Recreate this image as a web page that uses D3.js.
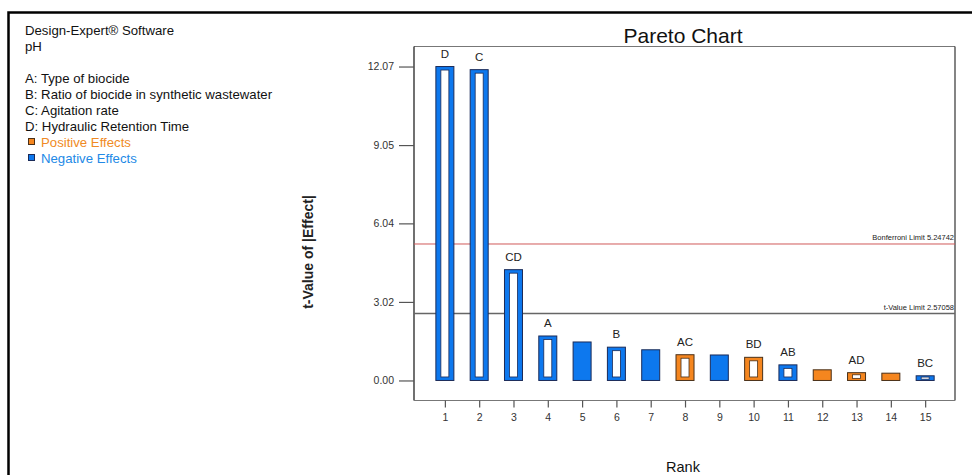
<!DOCTYPE html>
<html>
<head>
<meta charset="utf-8">
<script src="https://cdn.jsdelivr.net/npm/d3@7"></script>
<style>
  html, body { margin: 0; padding: 0; background: #fff; }
  svg { display: block; font-family: Arial, "Liberation Sans", sans-serif; }
</style>
</head>
<body>
<svg id="chart" width="972" height="475"></svg>
<script>
// ---- data ----
const ranks   = [1, 2, 3, 4, 5, 6, 7, 8, 9, 10, 11, 12, 13, 14, 15];
const tValues = [12.07, 11.95, 4.26, 1.71, 1.48, 1.28, 1.18, 0.99, 0.98, 0.89, 0.60, 0.41, 0.30, 0.28, 0.18];
const terms   = ["D", "C", "CD", "A", "", "B", "", "AC", "", "BD", "AB", "", "AD", "", "BC"];
const effectSign = ["neg", "neg", "neg", "neg", "neg", "neg", "neg", "pos", "neg", "pos", "neg", "pos", "pos", "pos", "neg"];
const yTicks  = [0.00, 3.02, 6.04, 9.05, 12.07];
const limits  = [
  { name: "Bonferroni Limit 5.24742", value: 5.24742 },
  { name: "t-Value Limit 2.57058", value: 2.57058 }
];
const infoLines = [
  "Design-Expert\u00AE Software",
  "pH",
  "",
  "A: Type of biocide",
  "B: Ratio of biocide in synthetic wastewater",
  "C: Agitation rate",
  "D: Hydraulic Retention Time"
];
const legendItems = [
  { label: "Positive Effects", key: "pos" },
  { label: "Negative Effects", key: "neg" }
];

// ---- styles ----
const fillColor   = { pos: "#f5861f", neg: "#0d78ee" };
const strokeColor = { pos: "#4a3018", neg: "#1b2b58" };
const textColor   = { pos: "#f08a24", neg: "#2289e6" };

const svg = d3.select("#chart");

// outer frame
svg.append("rect")
  .attr("x", 8.5).attr("y", 12.5).attr("width", 1000).attr("height", 500)
  .attr("fill", "none").attr("stroke", "#000").attr("stroke-width", 2.5);

// info text
const info = svg.append("g");
infoLines.forEach((t, i) => {
  info.append("text").attr("x", 25).attr("y", 35 + i * 16)
    .attr("font-size", 13.2).attr("fill", "#111").text(t);
});
legendItems.forEach((d, i) => {
  const yb = 35 + (infoLines.length + i) * 16;
  info.append("rect").attr("x", 28.5).attr("y", yb - 8.5).attr("width", 6).attr("height", 6)
    .attr("fill", fillColor[d.key]).attr("stroke", strokeColor[d.key]).attr("stroke-width", 1);
  info.append("text").attr("x", 41).attr("y", yb)
    .attr("font-size", 13.2).attr("fill", textColor[d.key]).text(d.label);
});

// ---- plot ----
const L = 414, R = 955, T = 46.5, B = 400.5;
const x = d3.scaleLinear().domain([0.1, 15.87]).range([L, R]);
const y = d3.scaleLinear().domain([-0.77, 12.84]).range([B, T]);

// title
svg.append("text").attr("x", 683).attr("y", 43).attr("text-anchor", "middle")
  .attr("font-size", 21).attr("fill", "#111").text("Pareto Chart");

// plot frame
svg.append("line").attr("x1", L).attr("x2", R).attr("y1", T).attr("y2", T)
  .attr("stroke", "#777").attr("stroke-width", 1.2);
svg.append("line").attr("x1", R).attr("x2", R).attr("y1", T).attr("y2", B)
  .attr("stroke", "#333").attr("stroke-width", 1.2);

// axes
const yAxis = d3.axisLeft(y).tickValues(yTicks).tickFormat(d3.format(".2f"))
  .tickSize(15).tickPadding(5);
const gy = svg.append("g").attr("transform", `translate(${L},0)`).call(yAxis);
gy.select(".domain").attr("stroke", "#111").attr("stroke-width", 1.2).attr("d", `M0,${T}V${B}`);
gy.selectAll(".tick line").attr("stroke", "#555").attr("stroke-width", 1.2);
gy.selectAll(".tick text").attr("font-size", 10.5).attr("fill", "#333")
  .attr("font-family", "Arial, 'Liberation Sans', sans-serif");

const xAxis = d3.axisBottom(x).tickValues(ranks).tickFormat(d3.format("d"))
  .tickSize(7).tickPadding(6);
const gx = svg.append("g").attr("transform", `translate(0,${B})`).call(xAxis);
gx.select(".domain").attr("stroke", "#777").attr("stroke-width", 1.2).attr("d", `M${L},0H${R}`);
gx.selectAll(".tick line").attr("stroke", "#555").attr("stroke-width", 1.2);
gx.selectAll(".tick text").attr("font-size", 10.5).attr("fill", "#333")
  .attr("font-family", "Arial, 'Liberation Sans', sans-serif");

// axis titles
svg.append("text").attr("transform", `translate(313,${252}) rotate(-90)`)
  .attr("text-anchor", "middle").attr("font-size", 14).attr("font-weight", "bold")
  .attr("fill", "#222").text("t-Value of |Effect|");
svg.append("text").attr("x", 683).attr("y", 472).attr("text-anchor", "middle")
  .attr("font-size", 14.5).attr("fill", "#111").text("Rank");

// limit lines
const limitStyle = [
  { stroke: "#d05a5a", width: 1 },
  { stroke: "#666", width: 1.5 }
];
limits.forEach((d, i) => {
  svg.append("line").attr("x1", L).attr("x2", R).attr("y1", y(d.value)).attr("y2", y(d.value))
    .attr("stroke", limitStyle[i].stroke).attr("stroke-width", limitStyle[i].width);
  svg.append("text").attr("x", R - 1).attr("y", y(d.value) - 4).attr("text-anchor", "end")
    .attr("font-size", 7.5).attr("fill", "#222").text(d.name);
});

// bars
const data = ranks.map((r, i) => ({ rank: r, t: tValues[i], term: terms[i], sign: effectSign[i] }));
const bw = 18;
const bars = svg.append("g").selectAll("g").data(data).join("g");
bars.append("rect")
  .attr("x", d => x(d.rank) - bw / 2)
  .attr("y", d => y(d.t))
  .attr("width", bw)
  .attr("height", d => y(0) - y(d.t))
  .attr("fill", d => fillColor[d.sign])
  .attr("stroke", d => strokeColor[d.sign])
  .attr("stroke-width", 1);
// hollow inner rect for labelled (model) terms
const vInset = d => Math.min(3.5, (y(0) - y(d.t)) * 0.27);
bars.filter(d => d.term !== "").append("rect")
  .attr("x", d => x(d.rank) - bw / 2 + 5)
  .attr("y", d => y(d.t) + vInset(d))
  .attr("width", bw - 10)
  .attr("height", d => Math.max(0.8, y(0) - y(d.t) - 2 * vInset(d)))
  .attr("fill", "#fff")
  .attr("stroke", d => strokeColor[d.sign])
  .attr("stroke-width", 0.8);
bars.filter(d => d.term !== "").append("text")
  .attr("x", d => x(d.rank))
  .attr("y", d => y(d.t) - 9)
  .attr("text-anchor", "middle")
  .attr("font-size", 11.5).attr("fill", "#222")
  .text(d => d.term);
</script>
</body>
</html>
